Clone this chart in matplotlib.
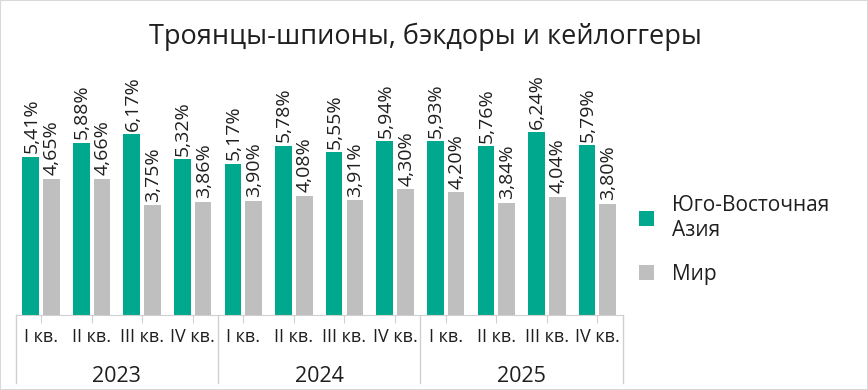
import matplotlib
matplotlib.use("Agg")
import matplotlib.pyplot as plt
import matplotlib.transforms as mtransforms
from matplotlib.patches import Rectangle

plt.rcParams['font.family'] = ['Open Sans', 'DejaVu Sans']

title = "Троянцы-шпионы, бэкдоры и кейлоггеры"
years = ["2023", "2024", "2025"]
quarters = ["I кв.", "II кв.", "III кв.", "IV кв."]
series_names = ["Юго-Восточная\nАзия", "Мир"]
sea = [5.41, 5.88, 6.17, 5.32, 5.17, 5.78, 5.55, 5.94, 5.93, 5.76, 6.24, 5.79]
world = [4.65, 4.66, 3.75, 3.86, 3.90, 4.08, 3.91, 4.30, 4.20, 3.84, 4.04, 3.80]

GREEN = "#00A88E"
GRAY = "#BFBFBF"
TEXT = "#1F1F1F"
LINE = "#D0D0D0"

W, H = 868, 390
fig = plt.figure(figsize=(W / 100, H / 100), dpi=100)
ax_l, ax_r, ax_b, ax_t = 15.7, 622.7, 315, 110
ax = fig.add_axes([ax_l / W, (H - ax_b) / H, (ax_r - ax_l) / W, (ax_b - ax_t) / H])

n = len(sea)
x = list(range(n))
bw = 0.33
xg = [i - 0.205 for i in x]
xw = [i + 0.205 for i in x]
b1 = ax.bar(xg, sea, width=bw, color=GREEN, label=series_names[0])
b2 = ax.bar(xw, world, width=bw, color=GRAY, label=series_names[1])

def fmt(v):
    return f"{v:.2f}".replace(".", ",") + "%"

for xs, vals in ((xg, sea), (xw, world)):
    for xi, v in zip(xs, vals):
        ax.annotate(fmt(v), (xi, v), xytext=(0.5, 2.5), textcoords="offset points",
                    rotation=90, ha="center", va="bottom", fontsize=14, color=TEXT)

ax.set_xlim(-0.5, n - 0.5)
ax.set_ylim(0, 7)
for s in ["top", "right", "left"]:
    ax.spines[s].set_visible(False)
ax.spines["bottom"].set_color(LINE)
ax.set_yticks([])
ax.set_xticks(x)
ax.set_xticklabels(quarters * len(years), fontsize=13, color=TEXT)
ax.tick_params(axis="x", length=5.5, color=LINE, pad=4)

trans = mtransforms.blended_transform_factory(ax.transData, ax.transAxes)
depth = -(383 - ax_b) / (ax_b - ax_t)
for k in range(len(years) + 1):
    xb = k * 4 - 0.5
    ax.plot([xb, xb], [0, depth], transform=trans, color=LINE, lw=1, clip_on=False)
for k, yr in enumerate(years):
    ax.text(k * 4 + 1.5, -(376 - ax_b) / (ax_b - ax_t), yr, transform=trans,
            ha="center", va="center", fontsize=15.5, color=TEXT)

fig.text(425 / W, 1 - 37 / H, title, ha="center", va="center", fontsize=19.5, color=TEXT)

leg = fig.legend(handles=[b1, b2], labels=series_names, loc="center left",
                 bbox_to_anchor=(620 / W, 1 - 240 / H), frameon=False, fontsize=15,
                 handlelength=0.75, handleheight=0.75, handletextpad=0.85, labelspacing=1.1,
                 labelcolor=TEXT)

fig.patches.append(Rectangle((0, 0), 1, 1, transform=fig.transFigure, fill=False,
                             edgecolor="#D9D9D9", lw=1.5))

fig.savefig("out.png", dpi=100)
